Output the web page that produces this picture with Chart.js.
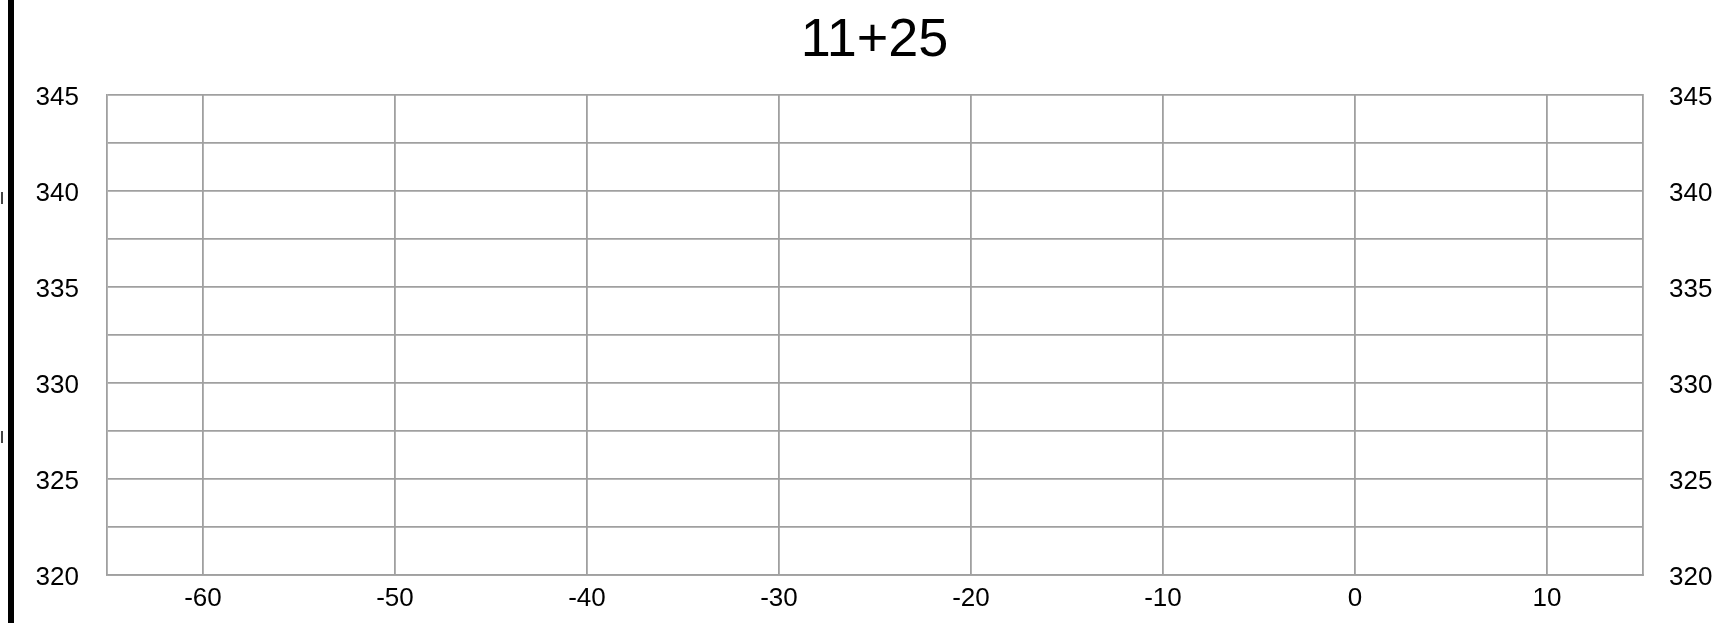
<!DOCTYPE html>
<html>
<head>
<meta charset="utf-8">
<script src="https://cdn.jsdelivr.net/npm/chart.js@4/dist/chart.umd.min.js"></script>
<style>
  html, body { margin: 0; padding: 0; background: #fff; overflow: hidden; width: 1715px; height: 623px; }
  #bar { position: absolute; left: 8px; top: 0; width: 6px; height: 623px; background: #000; }
  .mark { position: absolute; left: 1px; width: 2px; height: 12px; background: #444; }
  #wrap { position: absolute; left: 18px; top: 0; width: 1713px; height: 623px; }
</style>
</head>
<body>
<div id="bar"></div>
<div class="mark" style="top:192px"></div>
<div class="mark" style="top:431px"></div>
<div id="wrap"><canvas id="c" width="1713" height="623"></canvas></div>
<script>
const chartTitle = "11+25";
const seriesX = [];
const seriesY = [];
const xTickValues = [-60, -50, -40, -30, -20, -10, 0, 10];
const yGridValues = [320, 322.5, 325, 327.5, 330, 332.5, 335, 337.5, 340, 342.5, 345];
const yTickValues = [320, 325, 330, 335, 340, 345];
const xRange = [-65, 15];
const yRange = [320, 345];

const FONT = "'Liberation Sans', Arial, sans-serif";
const GRID = '#a0a0a0';
const LW = 1.8;
const TICK_SIZE = 26;

const points = seriesX.map((x, i) => ({ x: x, y: seriesY[i] }));

function yAxis(position, width, pad) {
  return {
    type: 'linear',
    position: position,
    min: yRange[0], max: yRange[1],
    grid: position === 'left'
      ? { color: GRID, lineWidth: LW, drawTicks: false }
      : { drawOnChartArea: false, drawTicks: false },
    border: { color: GRID, width: LW },
    afterBuildTicks: (s) => { s.ticks = yGridValues.map(v => ({ value: v })); },
    afterFit: (s) => { s.width = width; },
    ticks: {
      padding: pad,
      labelOffset: 3,
      color: '#000',
      font: { family: FONT, size: TICK_SIZE },
      callback: (v) => (yTickValues.includes(v) ? String(v) : '')
    }
  };
}

new Chart(document.getElementById('c'), {
  type: 'scatter',
  data: { datasets: [{ label: chartTitle, data: points, showLine: true, borderColor: '#3366cc', backgroundColor: '#3366cc' }] },
  options: {
    responsive: false,
    animation: false,
    devicePixelRatio: 1,
    layout: { padding: { left: 18.5, right: 18.5, top: 0, bottom: 8 } },
    plugins: {
      legend: { display: false },
      tooltip: { enabled: false },
      title: {
        display: true,
        text: chartTitle,
        color: '#000',
        font: { family: FONT, size: 54, weight: 'normal', lineHeight: 1.2 },
        padding: { top: 9, bottom: 21 }
      }
    },
    scales: {
      x: {
        type: 'linear',
        min: xRange[0], max: xRange[1],
        grid: { color: GRID, lineWidth: LW, drawTicks: false },
        border: { color: GRID, width: LW },
        afterBuildTicks: (s) => { s.ticks = xTickValues.map(v => ({ value: v })); },
        afterFit: (s) => { s.height = 40; },
        ticks: {
          padding: 8,
          autoSkip: false,
          maxRotation: 0,
          color: '#000',
          font: { family: FONT, size: TICK_SIZE },
          callback: (v) => String(v)
        }
      },
      y: yAxis('left', 70.5, 28),
      y2: yAxis('right', 69.5, 26)
    }
  }
});
</script>
</body>
</html>
